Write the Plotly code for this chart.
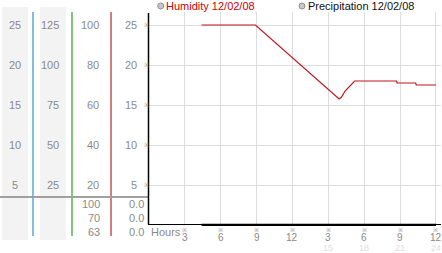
import plotly.graph_objects as go

W, H = 442, 253

# ---- data ----
hum_hours = [4.4, 8.9, 15.9, 16.1, 16.4, 16.7, 17.0, 17.2, 20.7, 20.75, 22.3, 22.35, 24.0]
hum_vals = [100, 100, 63, 64, 67, 69, 71, 72, 72, 71, 71, 70, 70]
precip_hours = [4.4, 24.0]
precip_vals = [0.0, 0.0]

col1_ticks = [25, 20, 15, 10, 5]          # main scale
col2_ticks = [125, 100, 75, 50, 25]       # x5 scale
col3_ticks = [100, 80, 60, 40, 20]        # humidity %
col4_ticks = [25, 20, 15, 10, 5]          # main axis
summary_hum = ["100", "70", "63"]
summary_precip = ["0.0", "0.0", "0.0"]
hour_ticks = [3, 6, 9, 12, 15, 18, 21, 24]
hour_labels = ["3", "6", "9", "12", "3", "6", "9", "12"]
hour_faint = [15, 18, 21, 24]

FONT = "Liberation Sans"
GREY = "#8a8a8a"

def px(x):
    return x / W

def py(y):
    return 1 - y / H

fig = go.Figure()

fig.add_trace(go.Scatter(x=precip_hours, y=precip_vals, mode="lines",
                         line=dict(color="black", width=2.5), yaxis="y",
                         showlegend=False, hoverinfo="skip"))
fig.add_trace(go.Scatter(x=hum_hours, y=hum_vals, mode="lines",
                         line=dict(color="#c0141c", width=1.2), yaxis="y2",
                         showlegend=False, hoverinfo="skip"))

ymin, ymax = -0.125, 26.6
y_bot_px = 226
y_top_px = y_bot_px - (ymax - ymin) * 8

fig.update_layout(
    width=W, height=H, margin=dict(l=0, r=0, t=0, b=0),
    paper_bgcolor="white", plot_bgcolor="white", showlegend=False,
    xaxis=dict(domain=[px(149), px(441)], range=[0, 24.42], tickvals=hour_ticks,
               showticklabels=False, showgrid=True, gridcolor="#dcdcdc", gridwidth=1,
               showline=False, zeroline=False, ticks=""),
    yaxis=dict(domain=[py(y_bot_px), py(y_top_px)], range=[ymin, ymax], tickvals=col4_ticks,
               showticklabels=False, showgrid=True, gridcolor="#dcdcdc", gridwidth=1,
               showline=False, zeroline=False, ticks=""),
    yaxis2=dict(overlaying="y", range=[ymin * 4, ymax * 4], visible=False),
)

shapes = []
# grey column backgrounds
for x0, x1 in [(2, 28), (40, 66)]:
    shapes.append(dict(type="rect", xref="paper", yref="paper", x0=px(x0), x1=px(x1),
                       y0=py(240), y1=py(7), fillcolor="#f3f3f3", line=dict(width=0), layer="below"))
# coloured scale separators
for x, c in [(33, "#3a9ccc"), (72, "#3aa83a"), (111, "#bb3838")]:
    shapes.append(dict(type="line", xref="paper", yref="paper", x0=px(x), x1=px(x),
                       y0=py(236), y1=py(12), line=dict(color=c, width=1.3)))
# grey horizontal separator
shapes.append(dict(type="line", xref="paper", yref="paper", x0=0, x1=px(149),
                   y0=py(197), y1=py(197), line=dict(color="#a0a0a0", width=2)))
# plot frame (left and bottom axis lines)
shapes.append(dict(type="line", xref="paper", yref="paper", x0=px(148.5), x1=px(148.5),
                   y0=py(224.5), y1=py(13), line=dict(color="black", width=1.5)))
shapes.append(dict(type="line", xref="paper", yref="paper", x0=px(148), x1=px(441),
                   y0=py(224.5), y1=py(224.5), line=dict(color="black", width=1)))
# legend markers
for x in [160.7, 302]:
    shapes.append(dict(type="circle", xref="paper", yref="paper",
                       x0=px(x - 3), x1=px(x + 3), y0=py(9), y1=py(3),
                       fillcolor="#c8c8c8", line=dict(color="#909090", width=1)))
fig.update_layout(shapes=shapes)

ann = []
def txt(text, x, y, xref="paper", yref="paper", xanchor="center", size=11, color=GREY):
    ann.append(dict(text=text, x=x, y=y, xref=xref, yref=yref, xanchor=xanchor,
                    yanchor="middle", showarrow=False, borderpad=0,
                    font=dict(family=FONT, size=size, color=color)))

for v in col1_ticks:
    txt(str(v), px(14.5), v, yref="y")
for v in col2_ticks:
    txt(str(v), px(60), v / 5, yref="y", xanchor="right")
for v in col3_ticks:
    txt(str(v), px(100), v, yref="y2", xanchor="right")
for v in col4_ticks:
    txt(str(v), px(138), v, yref="y", xanchor="right")
    txt("※", px(146.5), v, yref="y", size=6, color="#999999")

for i, (a, b) in enumerate(zip(summary_hum, summary_precip)):
    yy = [204, 218, 232][i]
    txt(a, px(101), py(yy), xanchor="right")
    txt(b, px(144.5), py(yy), xanchor="right")

txt("Hours", px(166), py(232))
for v, lab in zip(hour_ticks, hour_labels):
    txt("※", v, py(229.5), xref="x", size=6, color="#999999")
    txt(lab, v, py(237), xref="x", size=10)
for v in hour_faint:
    txt(str(v), v, py(248), xref="x", size=9, color="#dedede")

txt("Humidity 12/02/08", px(165), py(6.5), xanchor="left", size=11, color="#cc0000")
txt("Precipitation 12/02/08", px(306.5), py(6.5), xanchor="left", size=11, color="#111111")

fig.update_layout(annotations=ann)
fig.write_html("out.html")
